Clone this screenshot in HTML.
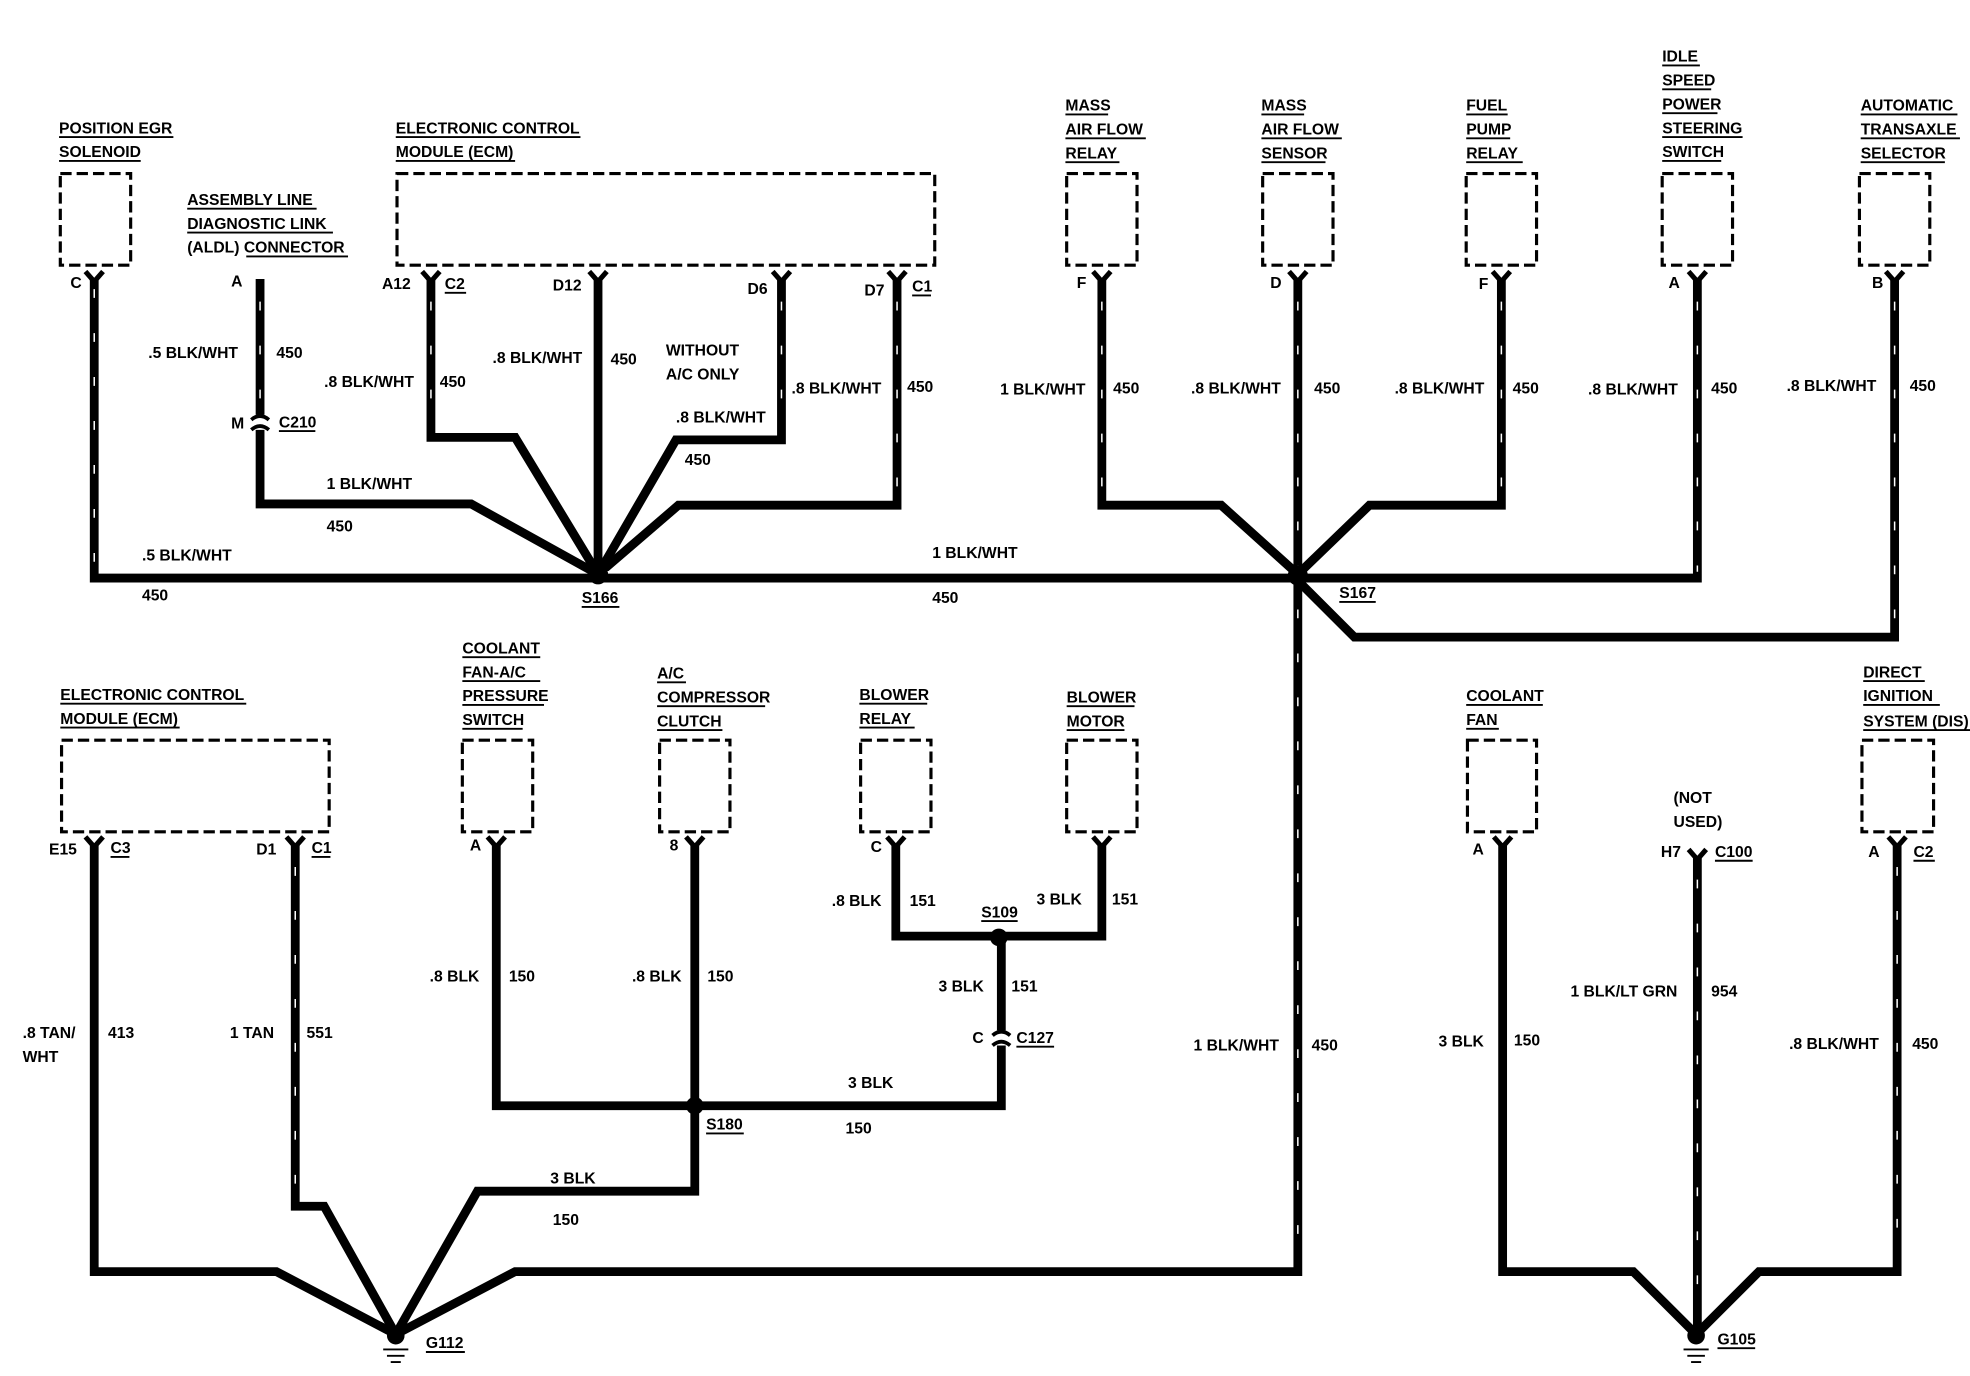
<!DOCTYPE html>
<html><head><meta charset="utf-8"><style>
html,body{margin:0;padding:0;background:#fff;}
svg{display:block;}
text{font-family:"Liberation Sans",sans-serif;font-weight:bold;font-size:12.5px;fill:#000;}
.w{fill:none;stroke:#000;stroke-width:7;stroke-linejoin:miter;}
.s{fill:none;stroke:#fff;stroke-width:1.2;stroke-dasharray:7 28;}
.b{fill:none;stroke:#000;stroke-width:2.5;stroke-dasharray:9 4;}
.u{stroke:#000;stroke-width:1.5;}
</style></head><body>
<svg width="1970" height="1376" viewBox="0 0 1568 1095" xmlns="http://www.w3.org/2000/svg">
<defs>
<g id="cn"><path d="M-7,-6 L0,2 L7,-6" fill="none" stroke="#000" stroke-width="4"/></g>
</defs>
<rect class="b" x="48" y="138" width="56" height="73"/>
<rect class="b" x="316" y="138" width="428" height="73"/>
<rect class="b" x="849" y="138" width="56" height="73"/>
<rect class="b" x="1005" y="138" width="56" height="73"/>
<rect class="b" x="1167" y="138" width="56" height="73"/>
<rect class="b" x="1323" y="138" width="56" height="73"/>
<rect class="b" x="1480" y="138" width="56" height="73"/>
<rect class="b" x="49" y="589" width="213" height="73"/>
<rect class="b" x="368" y="589" width="56" height="73"/>
<rect class="b" x="525" y="589" width="56" height="73"/>
<rect class="b" x="685" y="589" width="56" height="73"/>
<rect class="b" x="849" y="589" width="56" height="73"/>
<rect class="b" x="1168" y="589" width="55" height="73"/>
<rect class="b" x="1482" y="589" width="57" height="73"/>
<g id="wires">
<path class="w" d="M75,222 V460 H1033"/>
<path class="w" d="M207,222 V330 M207,342 V401 H375 L476,457"/>
<path class="w" d="M343,222 V348 H410 L476,457"/>
<path class="w" d="M476,222 V457"/>
<path class="w" d="M622,222 V350 H538 L476,457"/>
<path class="w" d="M714,222 V402 H540 L476,457"/>
<path class="w" d="M877,222 V402 H972 L1033,457"/>
<path class="w" d="M1033,222 V1012 H410 L315,1062"/>
<path class="w" d="M1195,222 V402 H1090 L1033,457"/>
<path class="w" d="M1351,222 V460 H1033"/>
<path class="w" d="M1508,222 V507 H1078 L1033,462"/>
<path class="w" d="M75,672 V1012 H220 L315,1062"/>
<path class="w" d="M235,672 V960 H258 L315,1062"/>
<path class="w" d="M395,672 V880 H797 V832 M797,820 V745"/>
<path class="w" d="M553,672 V948 H380 L315,1062"/>
<path class="w" d="M713,672 V745 H877 V672"/>
<path class="w" d="M1196,672 V1012 H1300 L1350,1062"/>
<path class="w" d="M1351,682 V1062"/>
<path class="w" d="M1510,672 V1012 H1400 L1350,1062"/>
</g>
<g class="s">
<path d="M75,230 V455 H1028"/><path d="M207,240 V320"/><path d="M343,240 V340"/><path d="M622,240 V345"/><path d="M714,240 V395"/>
<path d="M877,240 V395"/><path d="M1033,240 V1005"/><path d="M1195,240 V395"/><path d="M1351,240 V455"/><path d="M1508,240 V500 H1085"/>
<path d="M1510,690 V1005"/><path d="M1351,700 V1050"/><path d="M235,690 V955"/>
</g>
<g>
<use href="#cn" x="75" y="222"/><use href="#cn" x="343" y="222"/><use href="#cn" x="476" y="222"/><use href="#cn" x="622" y="222"/><use href="#cn" x="714" y="222"/>
<use href="#cn" x="877" y="222"/><use href="#cn" x="1033" y="222"/><use href="#cn" x="1195" y="222"/><use href="#cn" x="1351" y="222"/><use href="#cn" x="1508" y="222"/>
<use href="#cn" x="75" y="672"/><use href="#cn" x="235" y="672"/><use href="#cn" x="395" y="672"/><use href="#cn" x="553" y="672"/><use href="#cn" x="713" y="672"/><use href="#cn" x="877" y="672"/><use href="#cn" x="1196" y="672"/><use href="#cn" x="1351" y="682"/><use href="#cn" x="1510" y="672"/>
<path d="M200,334 Q207,328 214,334 M200,342 Q207,336 214,342" fill="none" stroke="#000" stroke-width="3"/>
<path d="M790,824 Q797,818 804,824 M790,832 Q797,826 804,832" fill="none" stroke="#000" stroke-width="3"/>
</g>
<circle cx="476" cy="457" r="8"/><circle cx="1033" cy="458" r="8"/><circle cx="553" cy="880" r="7"/><circle cx="795" cy="746" r="7"/>
<g><circle cx="315" cy="1063" r="7"/><line class="u" x1="305" y1="1074" x2="325" y2="1074"/><line class="u" x1="308" y1="1079" x2="322" y2="1079"/><line class="u" x1="311" y1="1084" x2="319" y2="1084"/></g>
<g><circle cx="1350" cy="1063" r="7"/><line class="u" x1="1340" y1="1074" x2="1360" y2="1074"/><line class="u" x1="1343" y1="1079" x2="1357" y2="1079"/><line class="u" x1="1346" y1="1084" x2="1354" y2="1084"/></g>
<g>
<text x="47" y="106">POSITION EGR</text><text x="47" y="125">SOLENOID</text>
<text x="149" y="163">ASSEMBLY LINE</text><text x="149" y="182">DIAGNOSTIC LINK</text><text x="149" y="201">(ALDL) CONNECTOR</text>
<text x="315" y="106">ELECTRONIC CONTROL</text><text x="315" y="125">MODULE (ECM)</text>
<text x="848" y="88">MASS</text><text x="848" y="107">AIR FLOW</text><text x="848" y="126">RELAY</text>
<text x="1004" y="88">MASS</text><text x="1004" y="107">AIR FLOW</text><text x="1004" y="126">SENSOR</text>
<text x="1167" y="88">FUEL</text><text x="1167" y="107">PUMP</text><text x="1167" y="126">RELAY</text>
<text x="1323" y="49">IDLE</text><text x="1323" y="68">SPEED</text><text x="1323" y="87">POWER</text><text x="1323" y="106">STEERING</text><text x="1323" y="125">SWITCH</text>
<text x="1481" y="88">AUTOMATIC</text><text x="1481" y="107">TRANSAXLE</text><text x="1481" y="126">SELECTOR</text>
<text x="48" y="557">ELECTRONIC CONTROL</text><text x="48" y="576">MODULE (ECM)</text>
<text x="368" y="520">COOLANT</text><text x="368" y="539">FAN-A/C</text><text x="368" y="558">PRESSURE</text><text x="368" y="577">SWITCH</text>
<text x="523" y="540">A/C</text><text x="523" y="559">COMPRESSOR</text><text x="523" y="578">CLUTCH</text>
<text x="684" y="557">BLOWER</text><text x="684" y="576">RELAY</text>
<text x="849" y="559">BLOWER</text><text x="849" y="578">MOTOR</text>
<text x="1167" y="558">COOLANT</text><text x="1167" y="577">FAN</text>
<text x="1483" y="539">DIRECT</text><text x="1483" y="558">IGNITION</text><text x="1483" y="578">SYSTEM (DIS)</text>
</g>
<g class="u">
<line x1="47" y1="109" x2="138" y2="109"/><line x1="47" y1="128" x2="112" y2="128"/>
<line x1="149" y1="166" x2="252" y2="166"/><line x1="149" y1="185" x2="265" y2="185"/><line x1="196" y1="204" x2="277" y2="204"/>
<line x1="315" y1="109" x2="462" y2="109"/><line x1="315" y1="128" x2="410" y2="128"/>
<line x1="848" y1="91" x2="882" y2="91"/><line x1="848" y1="110" x2="912" y2="110"/><line x1="848" y1="129" x2="891" y2="129"/>
<line x1="1004" y1="91" x2="1038" y2="91"/><line x1="1004" y1="110" x2="1068" y2="110"/><line x1="1004" y1="129" x2="1055" y2="129"/>
<line x1="1167" y1="91" x2="1200" y2="91"/><line x1="1167" y1="110" x2="1202" y2="110"/><line x1="1167" y1="129" x2="1212" y2="129"/>
<line x1="1323" y1="52" x2="1353" y2="52"/><line x1="1323" y1="71" x2="1362" y2="71"/><line x1="1323" y1="90" x2="1367" y2="90"/><line x1="1323" y1="109" x2="1387" y2="109"/><line x1="1323" y1="128" x2="1370" y2="128"/>
<line x1="1481" y1="91" x2="1558" y2="91"/><line x1="1481" y1="110" x2="1560" y2="110"/><line x1="1481" y1="129" x2="1548" y2="129"/>
<line x1="48" y1="560" x2="196" y2="560"/><line x1="48" y1="579" x2="143" y2="579"/>
<line x1="368" y1="523" x2="430" y2="523"/><line x1="368" y1="542" x2="430" y2="542"/><line x1="368" y1="561" x2="433" y2="561"/><line x1="368" y1="580" x2="416" y2="580"/>
<line x1="523" y1="543" x2="546" y2="543"/><line x1="523" y1="562" x2="609" y2="562"/><line x1="523" y1="581" x2="575" y2="581"/>
<line x1="684" y1="560" x2="738" y2="560"/><line x1="684" y1="579" x2="728" y2="579"/>
<line x1="849" y1="562" x2="903" y2="562"/><line x1="849" y1="581" x2="895" y2="581"/>
<line x1="1167" y1="561" x2="1228" y2="561"/><line x1="1167" y1="580" x2="1193" y2="580"/>
<line x1="1483" y1="542" x2="1532" y2="542"/><line x1="1483" y1="561" x2="1544" y2="561"/><line x1="1483" y1="581" x2="1568" y2="581"/>
</g>
<g>
<text x="56" y="229">C</text><text x="184" y="228">A</text><text x="184" y="341">M</text><text x="222" y="340">C210</text>
<text x="304" y="230">A12</text><text x="354" y="230">C2</text><text x="440" y="231">D12</text><text x="595" y="234">D6</text><text x="688" y="235">D7</text><text x="726" y="232">C1</text>
<text x="857" y="229">F</text><text x="1011" y="229">D</text><text x="1177" y="230">F</text><text x="1328" y="229">A</text><text x="1490" y="229">B</text>
<text x="39" y="680">E15</text><text x="88" y="679">C3</text><text x="204" y="680">D1</text><text x="248" y="679">C1</text>
<text x="374" y="677">A</text><text x="533" y="677">8</text><text x="693" y="678">C</text><text x="1172" y="680">A</text>
<text x="1322" y="682">H7</text><text x="1365" y="682">C100</text><text x="1332" y="639">(NOT</text><text x="1332" y="658">USED)</text>
<text x="1487" y="682">A</text><text x="1523" y="682">C2</text>
<text x="774" y="830">C</text><text x="809" y="830">C127</text>
<text x="463" y="480">S166</text><text x="1066" y="476">S167</text><text x="562" y="899">S180</text><text x="781" y="730">S109</text>
<text x="339" y="1073">G112</text><text x="1367" y="1070">G105</text>
</g>
<g class="u">
<line x1="222" y1="343" x2="251" y2="343"/><line x1="354" y1="233" x2="371" y2="233"/><line x1="726" y1="235" x2="741" y2="235"/>
<line x1="88" y1="682" x2="103" y2="682"/><line x1="248" y1="682" x2="263" y2="682"/><line x1="1365" y1="685" x2="1395" y2="685"/><line x1="1523" y1="685" x2="1540" y2="685"/>
<line x1="809" y1="833" x2="839" y2="833"/><line x1="463" y1="483" x2="493" y2="483"/><line x1="1066" y1="479" x2="1095" y2="479"/>
<line x1="562" y1="902" x2="592" y2="902"/><line x1="781" y1="733" x2="810" y2="733"/><line x1="339" y1="1076" x2="370" y2="1076"/><line x1="1367" y1="1073" x2="1397" y2="1073"/>
</g>
<g>
<text x="118" y="285">.5 BLK/WHT</text><text x="220" y="285">450</text>
<text x="258" y="308">.8 BLK/WHT</text><text x="350" y="308">450</text>
<text x="392" y="289">.8 BLK/WHT</text><text x="486" y="290">450</text>
<text x="530" y="283">WITHOUT</text><text x="530" y="302">A/C ONLY</text>
<text x="538" y="336">.8 BLK/WHT</text><text x="545" y="370">450</text>
<text x="630" y="313">.8 BLK/WHT</text><text x="722" y="312">450</text>
<text x="260" y="389">1 BLK/WHT</text><text x="260" y="423">450</text>
<text x="113" y="446">.5 BLK/WHT</text><text x="113" y="478">450</text>
<text x="742" y="444">1 BLK/WHT</text><text x="742" y="480">450</text>
<text x="796" y="314">1 BLK/WHT</text><text x="886" y="313">450</text>
<text x="948" y="313">.8 BLK/WHT</text><text x="1046" y="313">450</text>
<text x="1110" y="313">.8 BLK/WHT</text><text x="1204" y="313">450</text>
<text x="1264" y="314">.8 BLK/WHT</text><text x="1362" y="313">450</text>
<text x="1422" y="311">.8 BLK/WHT</text><text x="1520" y="311">450</text>
<text x="18" y="826">.8 TAN/</text><text x="18" y="845">WHT</text><text x="86" y="826">413</text>
<text x="183" y="826">1 TAN</text><text x="244" y="826">551</text>
<text x="342" y="781">.8 BLK</text><text x="405" y="781">150</text>
<text x="503" y="781">.8 BLK</text><text x="563" y="781">150</text>
<text x="662" y="721">.8 BLK</text><text x="724" y="721">151</text>
<text x="825" y="720">3 BLK</text><text x="885" y="720">151</text>
<text x="747" y="789">3 BLK</text><text x="805" y="789">151</text>
<text x="675" y="866">3 BLK</text><text x="673" y="902">150</text>
<text x="438" y="942">3 BLK</text><text x="440" y="975">150</text>
<text x="950" y="836">1 BLK/WHT</text><text x="1044" y="836">450</text>
<text x="1145" y="833">3 BLK</text><text x="1205" y="832">150</text>
<text x="1250" y="793">1 BLK/LT GRN</text><text x="1362" y="793">954</text>
<text x="1424" y="835">.8 BLK/WHT</text><text x="1522" y="835">450</text>
</g>
</svg>
</body></html>
